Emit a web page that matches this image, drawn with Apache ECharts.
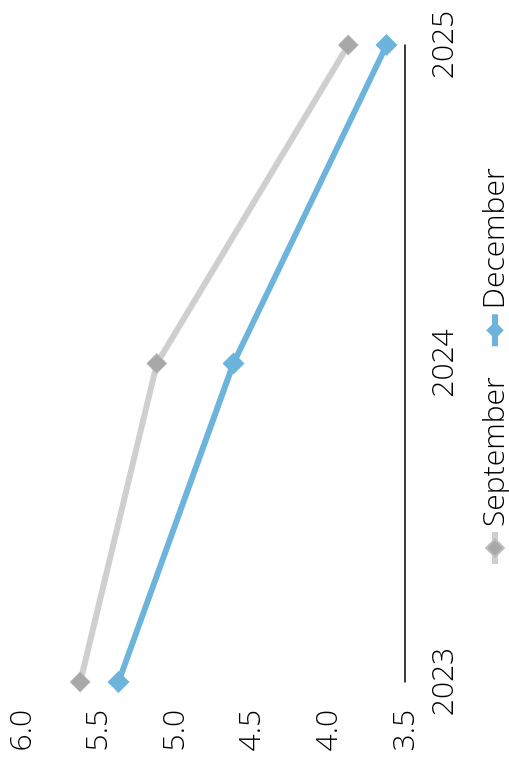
<!DOCTYPE html>
<html>
<head>
<meta charset="utf-8">
<script src="https://cdn.jsdelivr.net/npm/echarts@6/dist/echarts.min.js"></script>
<style>
html,body{margin:0;padding:0;width:509px;height:772px;overflow:hidden;background:#fff;}
#chart{position:absolute;left:0;top:0;width:772px;height:509px;transform-origin:0 0;transform:translate(0px,772px) rotate(-90deg);}
</style>
</head>
<body>
<div id="chart"></div>
<script>
const categories = ['2023', '2024', '2025'];
const septemberValues = [5.62, 5.12, 3.87];
const decemberValues = [5.37, 4.62, 3.62];
const seriesNames = ['September', 'December'];

const FONT = '"Open Sans", sans-serif';
const WEIGHT = 300;
const chart = echarts.init(document.getElementById('chart'), null, {renderer: 'canvas'});
chart.setOption({
  animation: false,
  backgroundColor: '#ffffff',
  grid: {left: 90, right: 45, top: 22, bottom: 104, containLabel: false},
  legend: {
    data: seriesNames,
    bottom: -6,
    left: 200,
    itemWidth: 32,
    itemHeight: 22,
    itemGap: 28,
    lineStyle: {width: 6},
    textStyle: {fontFamily: FONT, fontWeight: WEIGHT, fontSize: 30, color: '#000'}
  },
  xAxis: {
    type: 'category',
    data: categories,
    boundaryGap: false,
    axisLine: {show: true, lineStyle: {color: '#000', width: 1.5}},
    axisTick: {show: false},
    axisLabel: {fontFamily: FONT, fontWeight: WEIGHT, fontSize: 30, color: '#000', margin: 24},
    splitLine: {show: false}
  },
  yAxis: {
    type: 'value',
    min: 3.5,
    max: 6.0,
    interval: 0.5,
    axisLine: {show: false},
    axisTick: {show: false},
    splitLine: {show: false},
    axisLabel: {fontFamily: FONT, fontWeight: WEIGHT, fontSize: 30, color: '#000', margin: 28,
      formatter: v => v.toFixed(1)}
  },
  series: [
    {
      name: seriesNames[0],
      type: 'line',
      data: septemberValues,
      symbol: 'diamond',
      symbolSize: 20,
      lineStyle: {color: '#cfcfcf', width: 6},
      itemStyle: {color: '#a8a8a8', borderColor: '#bdbdbd', borderWidth: 1}
    },
    {
      name: seriesNames[1],
      type: 'line',
      data: decemberValues,
      symbol: 'diamond',
      symbolSize: 22,
      lineStyle: {color: '#6cb4dc', width: 6},
      itemStyle: {color: '#6cb4dc'}
    }
  ]
});
</script>
</body>
</html>
